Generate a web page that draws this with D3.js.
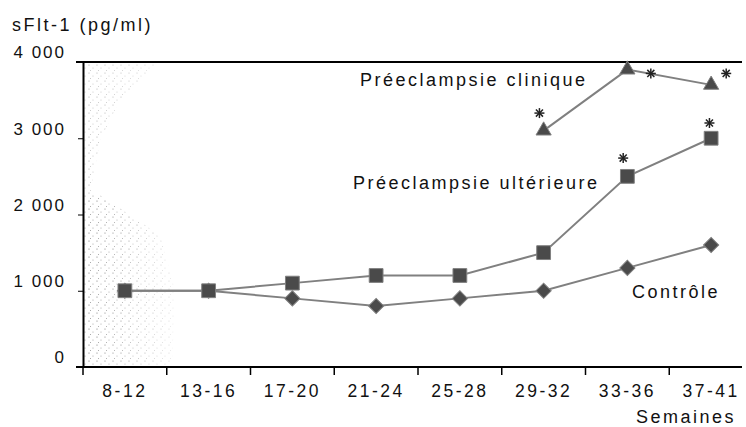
<!DOCTYPE html>
<html>
<head>
<meta charset="utf-8">
<script src="https://cdn.jsdelivr.net/npm/d3@7"></script>
<style>
  body { margin: 0; background: #fff; }
  svg text { font-family: "Liberation Sans", Arial, sans-serif; fill: #111; }
</style>
</head>
<body>
<script>
// weeks of gestation
var semaines = ["8-12", "13-16", "17-20", "21-24", "25-28", "29-32", "33-36", "37-41"];

// sFlt-1 (pg/ml)
var controle   = [1000, 1000, 900, 800, 900, 1000, 1300, 1600];
var ulterieure = [1000, 1000, 1100, 1200, 1200, 1500, 2500, 3000];
var clinique   = [null, null, null, null, null, 3100, 3900, 3700];

var yTicks = [0, 1000, 2000, 3000, 4000];

// significance stars: week, value, where in the band
var etoiles = [
  { sem: "29-32", val: 3330, pos: 0.45 },
  { sem: "33-36", val: 3850, pos: 0.78 },
  { sem: "37-41", val: 3850, pos: 0.68 },
  { sem: "33-36", val: 2740, pos: 0.45 },
  { sem: "37-41", val: 3200, pos: 0.48 }
];

var w = 746, h = 427;
var svg = d3.select("body").append("svg")
  .attr("width", w)
  .attr("height", h);

var x = d3.scaleBand().domain(semaines).range([83, 753]);
var y = d3.scaleLinear().domain([0, 4000]).range([367, 62]);
var cx = function (d) { return x(d) + x.bandwidth() / 2; };

// stippled area in the first weeks
var defs = svg.append("defs");
var pat = defs.append("pattern")
  .attr("id", "dots")
  .attr("patternUnits", "userSpaceOnUse")
  .attr("width", 8).attr("height", 8);
pat.append("circle").attr("cx", 1).attr("cy", 1).attr("r", 0.6).attr("fill", "#666");
pat.append("circle").attr("cx", 5).attr("cy", 4).attr("r", 0.6).attr("fill", "#999");
pat.append("circle").attr("cx", 2.5).attr("cy", 6.5).attr("r", 0.5).attr("fill", "#888");

var grad = defs.append("linearGradient").attr("id", "fade")
  .attr("x1", 0).attr("x2", 1).attr("y1", 0).attr("y2", 0);
grad.append("stop").attr("offset", "0%").attr("stop-color", "#fff").attr("stop-opacity", 1);
grad.append("stop").attr("offset", "40%").attr("stop-color", "#fff").attr("stop-opacity", 0.7);
grad.append("stop").attr("offset", "100%").attr("stop-color", "#fff").attr("stop-opacity", 0);
defs.append("mask").attr("id", "m")
  .append("rect").attr("x", 83).attr("y", 62).attr("width", 110).attr("height", 305)
  .attr("fill", "url(#fade)");

svg.append("path")
  .attr("d", "M83,195 L100,195 L160,235 L175,290 L172,367 L83,367 Z")
  .attr("fill", "url(#dots)")
  .attr("mask", "url(#m)");
svg.append("path")
  .attr("d", "M83,62 L160,62 L120,100 L100,140 L90,195 L83,195 Z")
  .attr("fill", "url(#dots)")
  .attr("opacity", 0.6)
  .attr("mask", "url(#m)");

// axes
var yAxis = svg.append("g")
  .attr("transform", "translate(83,0)")
  .call(d3.axisLeft(y).tickValues(yTicks).tickSize(5).tickSizeOuter(0).tickPadding(12)
    .tickFormat(function (d) { return d === 0 ? "0" : d3.format(",")(d).replace(",", " "); }));
yAxis.select(".domain").attr("stroke", "#000").attr("stroke-width", 2);
yAxis.selectAll("text").attr("dy", "-0.25em")
  .style("font-size", "17px").style("letter-spacing", "2px");

var xAxis = svg.append("g")
  .attr("transform", "translate(0,367)")
  .call(d3.axisBottom(x).tickSize(0).tickPadding(18));
xAxis.select(".domain").remove();
xAxis.selectAll("text").style("font-size", "17.5px").style("letter-spacing", "2.5px");

svg.append("line").attr("x1", 76).attr("x2", 742).attr("y1", y(0)).attr("y2", y(0))
  .attr("stroke", "#000").attr("stroke-width", 2);
svg.append("line").attr("x1", 76).attr("x2", 742).attr("y1", y(4000)).attr("y2", y(4000))
  .attr("stroke", "#000").attr("stroke-width", 2);

svg.append("g").selectAll("line")
  .data(semaines)
  .enter().append("line")
  .attr("x1", function (d) { return x(d); })
  .attr("x2", function (d) { return x(d); })
  .attr("y1", y(0)).attr("y2", y(0) + 8)
  .attr("stroke", "#000").attr("stroke-width", 1.5);

// lines
var line = d3.line()
  .defined(function (d) { return d.v != null; })
  .x(function (d) { return cx(d.s); })
  .y(function (d) { return y(d.v); });

function rows(vals) {
  return semaines.map(function (s, i) { return { s: s, v: vals[i] }; });
}

[controle, ulterieure, clinique].forEach(function (vals) {
  svg.append("path")
    .datum(rows(vals))
    .attr("d", line)
    .attr("fill", "none")
    .attr("stroke", "#808080")
    .attr("stroke-width", 2);
});

// markers
function markers(vals, type, size, rot) {
  svg.append("g").selectAll("path")
    .data(rows(vals).filter(function (d) { return d.v != null; }))
    .enter().append("path")
    .attr("transform", function (d) {
      return "translate(" + cx(d.s) + "," + y(d.v) + ") rotate(" + rot + ")";
    })
    .attr("d", d3.symbol().type(type).size(size))
    .attr("fill", "#4a4a4a")
    .attr("stroke", "#808080")
    .attr("stroke-width", 1);
}
markers(controle, d3.symbolSquare, 115, 45);
markers(ulterieure, d3.symbolSquare, 190, 0);
markers(clinique, d3.symbolTriangle, 100, 0);

// stars
var star = svg.append("g").selectAll("g")
  .data(etoiles)
  .enter().append("g")
  .attr("transform", function (d) {
    return "translate(" + (x(d.sem) + x.bandwidth() * d.pos) + "," + y(d.val) + ")";
  });
[0, 45, 90, 135].forEach(function (a) {
  star.append("line")
    .attr("x1", -5).attr("x2", 5).attr("y1", 0).attr("y2", 0)
    .attr("transform", "rotate(" + a + ")")
    .attr("stroke", "#222").attr("stroke-width", 1.5);
});

// texts
function label(t, px, py) {
  svg.append("text").attr("x", px).attr("y", py).text(t)
    .style("font-size", "18px").style("letter-spacing", "2.5px");
}
label("sFlt-1 (pg/ml)", 12, 31);
label("Préeclampsie clinique", 360, 86);
label("Préeclampsie ultérieure", 353, 189);
label("Contrôle", 632, 298);
label("Semaines", 636, 423);
</script>
</body>
</html>
